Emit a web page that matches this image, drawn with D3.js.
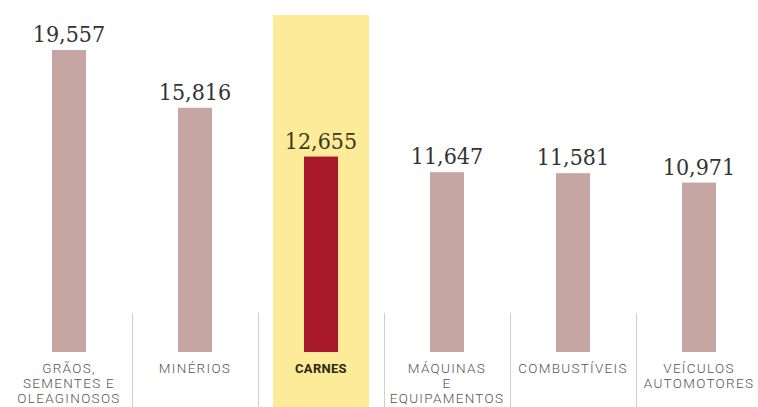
<!DOCTYPE html>
<html><head><meta charset="utf-8">
<script src="https://cdn.jsdelivr.net/npm/d3@7/dist/d3.min.js"></script>
<style>html,body{margin:0;padding:0;background:#fff;}svg{display:block;}</style>
</head><body><div id="chart"></div>
<script>
const categories = ["GRÃOS, SEMENTES E OLEAGINOSOS","MINÉRIOS","CARNES","MÁQUINAS E EQUIPAMENTOS","COMBUSTÍVEIS","VEÍCULOS AUTOMOTORES"];
const labelLines = [["GRÃOS,","SEMENTES E","OLEAGINOSOS"],["MINÉRIOS"],["CARNES"],["MÁQUINAS","E","EQUIPAMENTOS"],["COMBUSTÍVEIS"],["VEÍCULOS","AUTOMOTORES"]];
const values = [19557, 15816, 12655, 11647, 11581, 10971];
const valueLabels = ["19,557","15,816","12,655","11,647","11,581","10,971"];
const highlight = "CARNES";

const W = 758, H = 407;
const svg = d3.select("#chart").append("svg").attr("width", W).attr("height", H);
const x = d3.scaleBand().domain(categories).range([6, 762]).padding(0);
const y = d3.scaleLinear().domain([0, 19557]).range([352, 50]);
const bw = 34, hw = 96;

// highlight column
svg.append("rect")
  .attr("x", x(highlight) + (x.bandwidth() - hw) / 2)
  .attr("y", 15).attr("width", hw).attr("height", H - 15)
  .attr("fill", "#fdeb9a");

// separators
categories.slice(1).forEach(c => {
  svg.append("line").attr("x1", Math.round(x(c)) + 0.5).attr("x2", Math.round(x(c)) + 0.5)
    .attr("y1", 313).attr("y2", H).attr("stroke", "#cfcfcf").attr("stroke-width", 1);
});

// bars
svg.selectAll("rect.bar").data(categories).enter().append("rect")
  .attr("class", "bar")
  .attr("x", c => x(c) + (x.bandwidth() - bw) / 2)
  .attr("y", (c, i) => y(values[i]))
  .attr("width", bw)
  .attr("height", (c, i) => y(0) - y(values[i]))
  .attr("fill", c => c === highlight ? "#a8182b" : "#c6a6a2");

// value labels
svg.selectAll("text.val").data(categories).enter().append("text")
  .attr("class", "val")
  .attr("x", c => x(c) + x.bandwidth() / 2)
  .attr("y", (c, i) => y(values[i]) - 8)
  .attr("text-anchor", "middle")
  .style("font-family", "'DejaVu Serif Condensed','DejaVu Serif',serif")
  .style("font-stretch", "condensed")
  .style("font-size", "23px")
  .attr("fill", c => c === highlight ? "#3a3a1a" : "#333")
  .text((c, i) => valueLabels[i]);

// category labels
categories.forEach((c, i) => {
  const t = svg.append("text")
    .attr("x", x(c) + x.bandwidth() / 2)
    .attr("text-anchor", "middle")
    .style("font-family", "Roboto, sans-serif")
    .style("font-size", c === highlight ? "13px" : "13.5px")
    .style("font-weight", c === highlight ? "700" : "300")
    .style("letter-spacing", c === highlight ? "0.3px" : "1.3px")
    .attr("fill", c === highlight ? "#2a2a10" : "#555");
  labelLines[i].forEach((ln, j) => {
    t.append("tspan").attr("x", x(c) + x.bandwidth() / 2).attr("y", 373 + j * 15).text(ln);
  });
});
</script></body></html>
